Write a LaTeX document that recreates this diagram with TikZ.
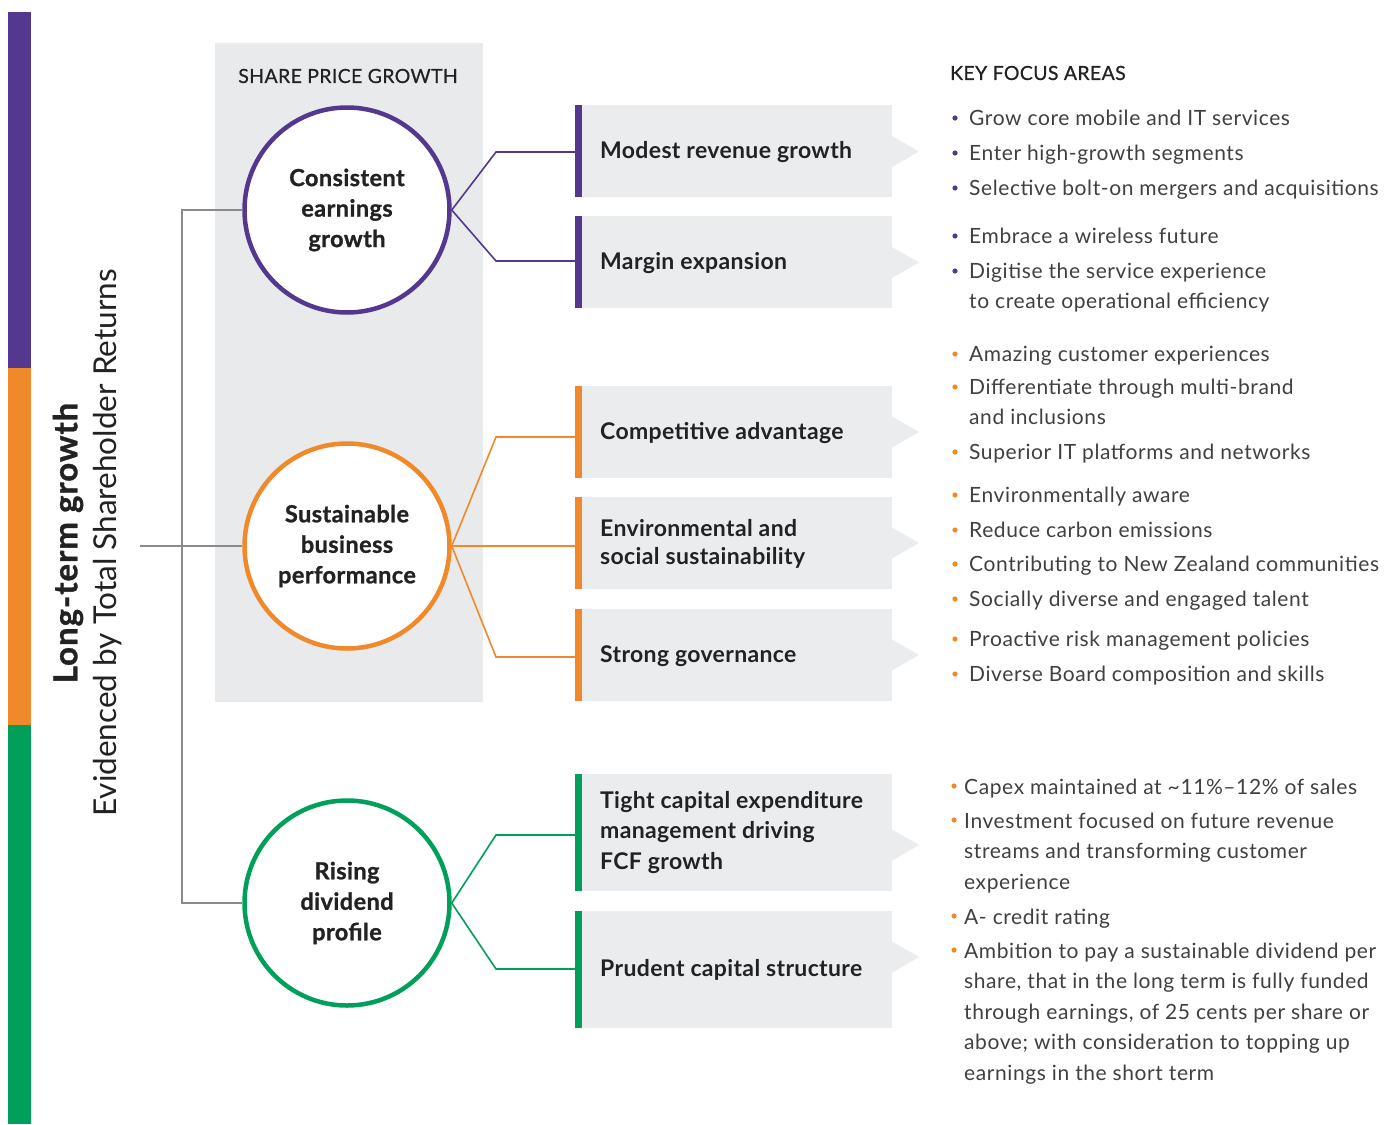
\documentclass[tikz,border=0pt]{standalone}
\usepackage{fontspec}
\setmainfont{Lato}
\newfontfamily\semib{Lato}[FakeBold=0.6,LetterSpace=1.8]
\newfontfamily\heavy{Lato Bold}[FakeBold=1.0,LetterSpace=1.8]
\newfontfamily\titlef{Lato Bold}[LetterSpace=1.5]
\newfontfamily\longf{Lato Bold}[FakeBold=1.0,LetterSpace=3]
\newfontfamily\bodyf{Lato}[LetterSpace=2.8]
\definecolor{cpur}{HTML}{54378E}
\definecolor{corg}{HTML}{F0892A}
\definecolor{cgrn}{HTML}{00A05A}
\definecolor{cpanel}{HTML}{E9EAEC}
\definecolor{cbox}{HTML}{EBECEE}
\definecolor{cline}{HTML}{8A8A8E}
\definecolor{ctitle}{HTML}{222222}
\definecolor{cbody}{HTML}{404040}
\tikzset{
  circ/.style={circle, draw=#1, line width=4.5pt, fill=white, minimum size=205pt, inner sep=0pt,
    align=center, font=\heavy\fontsize{23.5}{30.5}\selectfont, text=ctitle},
  boxnode/.style={rectangle, fill=cbox, minimum width=317pt, minimum height=#1, inner sep=0pt, anchor=west},
  boxtext/.style={anchor=west, inner sep=0pt, align=left, text=ctitle,
    font=\titlef\fontsize{23}{30.5}\selectfont},
  bul/.style={anchor=base west, inner sep=0pt, align=left, text=cbody,
    font=\bodyf\fontsize{21}{30.5}\selectfont},
  conn/.style={draw=#1, line width=1.6pt},
  grayline/.style={draw=cline, line width=1.3pt},
  heading/.style={inner sep=0pt, text=ctitle, font=\semib\fontsize{19.5}{22}\selectfont},
}
\newcommand{\tipat}[1]{% y of tip
  \fill[cbox] (892,#1-15.5) -- (919,#1) -- (892,#1+15.5) -- cycle;}
\newcommand{\barof}[2]{\fill[#2] (#1.north west) rectangle ([xshift=7pt]#1.south west);}
\newcommand{\dotat}[3]{\fill[#3] (#1,#2) circle (2.6pt);}
\begin{document}
\begin{tikzpicture}[x=1pt,y=-1pt]
\useasboundingbox (0,0) rectangle (1391,1124);
\fill[white] (0,0) rectangle (1391,1124);
% left colour bar
\fill[cpur] (8,12) rectangle (31,368);
\fill[corg] (8,368) rectangle (31,725);
\fill[cgrn] (8,725) rectangle (31,1124);
% vertical titles
\node[rotate=90, inner sep=0pt, text=ctitle, font=\longf\fontsize{33}{35}\selectfont] (lt) at (68,543) {Long-term growth};
\node[rotate=90, inner sep=0pt, text=ctitle, font=\fontsize{31.5}{34}\selectfont] (ev) at (108,543) {Evidenced by Total Shareholder Returns};
% grey panel
\fill[cpanel] (215,43) rectangle (483,702);
\node[heading] (spg) at (348,76) {SHARE PRICE GROWTH};
% circles
\node[circ=cpur] (c1) at (347,210) {Consistent\\earnings\\growth};
\node[circ=corg] (c2) at (347,546) {Sustainable\\business\\performance};
\node[circ=cgrn] (c3) at (347,903) {Rising\\dividend\\profile};
% grey tree
\coordinate (root) at (140,546);
\draw[grayline] (c1.west) -- (182,210) -- (182,903) -- (c3.west);
\draw[grayline] (root) -- (c2.west);
% boxes
\node[boxnode=92pt] (b1) at (575,151) {};
\node[boxnode=92pt] (b2) at (575,262) {};
\node[boxnode=92pt] (b3) at (575,432) {};
\node[boxnode=92pt] (b4) at (575,543) {};
\node[boxnode=92pt] (b5) at (575,655) {};
\node[boxnode=117pt] (b6) at (575,832.5) {};
\node[boxnode=117pt] (b7) at (575,969.5) {};
\tipat{151.5}
\tipat{262.5}
\tipat{432}
\tipat{543}
\tipat{655}
\tipat{845}
\tipat{957}
\barof{b1}{cpur}\barof{b2}{cpur}
\barof{b3}{corg}\barof{b4}{corg}\barof{b5}{corg}
\barof{b6}{cgrn}\barof{b7}{cgrn}
\node[boxtext] (t1) at ([xshift=25pt,yshift=-1pt]b1.west) {Modest revenue growth};
\node[boxtext] (t2) at ([xshift=25pt,yshift=-1pt]b2.west) {Margin expansion};
\node[boxtext] (t3) at ([xshift=25pt,yshift=-1pt]b3.west) {Competitive advantage};
\node[boxtext, font=\titlef\fontsize{23}{27.5}\selectfont] (t4) at ([xshift=25pt,yshift=-1pt]b4.west) {Environmental and\\social sustainability};
\node[boxtext] (t5) at ([xshift=25pt,yshift=-1pt]b5.west) {Strong governance};
\node[boxtext] (t6) at ([xshift=25pt]b6.west) {Tight capital expenditure\\management driving\\FCF growth};
\node[boxtext] (t7) at ([xshift=25pt]b7.west) {Prudent capital structure};
% connectors
\draw[conn=cpur] (c1.east) -- (496,152) -- (b1.west |- 0,152);
\draw[conn=cpur] (c1.east) -- (496,261) -- (b2.west |- 0,261);
\draw[conn=corg] (c2.east) -- (496,437) -- (b3.west |- 0,437);
\draw[conn=corg] (c2.east) -- (b4.west |- c2.east);
\draw[conn=corg] (c2.east) -- (496,657) -- (b5.west |- 0,657);
\draw[conn=cgrn] (c3.east) -- (496,835) -- (b6.west |- 0,835);
\draw[conn=cgrn] (c3.east) -- (496,969) -- (b7.west |- 0,969);
% key focus areas (multi-line nodes: base = last line)
\node[heading, anchor=west] (kfa) at (950,73) {KEY FOCUS AREAS};
\dotat{955}{118}{cpur}\node[bul] (p1) at (969,125) {Grow core mobile and IT services};
\dotat{955}{153}{cpur}\node[bul] (p2) at (969,160) {Enter high-growth segments};
\dotat{955}{188}{cpur}\node[bul] (p3) at (969,195) {Selective bolt-on mergers and acquisitions};
\dotat{955}{236}{cpur}\node[bul] (p4) at (969,243) {Embrace a wireless future};
\dotat{955}{271}{cpur}\node[bul, font=\bodyf\fontsize{21}{30}\selectfont] (p5) at (969,308) {Digitise the service experience\\to create operational efficiency};
\dotat{955}{354}{corg}\node[bul] (o1) at (969,361) {Amazing customer experiences};
\dotat{955}{387}{corg}\node[bul, font=\bodyf\fontsize{21}{30}\selectfont] (o2) at (969,424) {Differentiate through multi-brand\\and inclusions};
\dotat{955}{452}{corg}\node[bul] (o3) at (969,459) {Superior IT platforms and networks};
\dotat{955}{495}{corg}\node[bul] (o4) at (969,502) {Environmentally aware};
\dotat{955}{530}{corg}\node[bul] (o5) at (969,537) {Reduce carbon emissions};
\dotat{955}{564}{corg}\node[bul] (o6) at (969,571) {Contributing to New Zealand communities};
\dotat{955}{599}{corg}\node[bul] (o7) at (969,606) {Socially diverse and engaged talent};
\dotat{955}{639}{corg}\node[bul] (o8) at (969,646) {Proactive risk management policies};
\dotat{955}{674}{corg}\node[bul] (o9) at (969,681) {Diverse Board composition and skills};
\dotat{954}{786}{corg}\node[bul] (g1) at (964,794) {Capex maintained at \textasciitilde11\%–12\% of sales};
\dotat{954}{820}{corg}\node[bul] (g2) at (964,889) {Investment focused on future revenue\\streams and transforming customer\\experience};
\dotat{954}{916}{corg}\node[bul] (g3) at (964,924) {A- credit rating};
\dotat{954}{950}{corg}\node[bul] (g4) at (964,1080) {Ambition to pay a sustainable dividend per\\share, that in the long term is fully funded\\through earnings, of 25 cents per share or\\above; with consideration to topping up\\earnings in the short term};
\end{tikzpicture}
\end{document}
